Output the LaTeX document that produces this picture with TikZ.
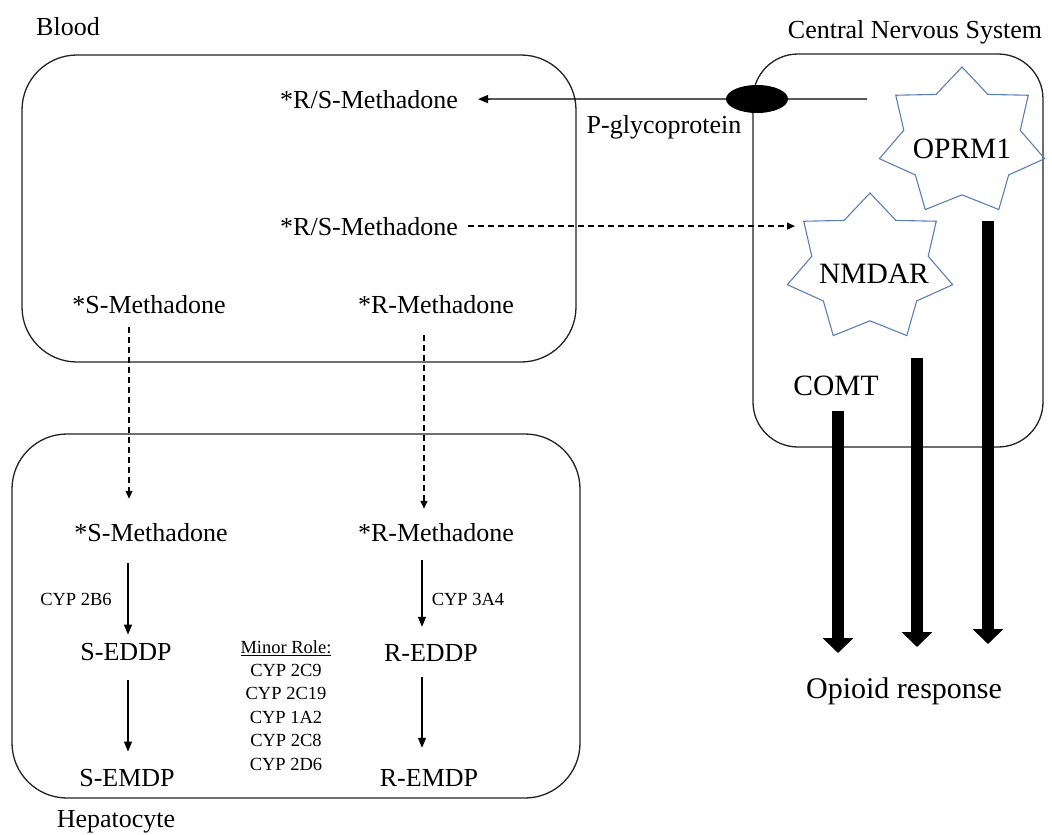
\documentclass[tikz,border=0pt]{standalone}
\usepackage{fontspec}
\setmainfont{Liberation Serif}
\usetikzlibrary{shapes.geometric,arrows.meta}
\definecolor{starblue}{HTML}{5B7FB5}
\definecolor{boxline}{HTML}{222222}
\begin{document}
\begin{tikzpicture}[x=1pt,y=-1pt,
  txt/.style={inner sep=0pt, anchor=base, font=\fontsize{26}{30}\selectfont},
  big/.style={inner sep=0pt, anchor=base, font=\fontsize{29.5}{34}\selectfont},
  small/.style={inner sep=0pt, anchor=base, font=\fontsize{18.5}{23.4}\selectfont},
  regionbox/.style={rectangle, draw=boxline, line width=1.3pt, rounded corners=55pt, inner sep=0pt},
  cnsbox/.style={rectangle, draw=boxline, line width=1.3pt, rounded corners=45pt, inner sep=0pt},
  starshape/.style={star, star points=7, star point ratio=1.42, minimum size=150pt, draw=starblue, line width=1.1pt, inner sep=0pt},
  flow/.style={line width=1.3pt, -{Triangle[width=8pt,length=10pt]}},
  dashflow/.style={line width=1.3pt, dash pattern=on 6pt off 4pt, -{Triangle[width=7pt,length=8pt]}},
  fat/.style={line width=12pt, -{Triangle[width=30pt,length=15pt]}}
]
\useasboundingbox (0,0) rectangle (1052,835);

% region boxes
\node[regionbox, minimum width=554pt, minimum height=307pt] (blood) at (299,208.5) {};
\node[regionbox, minimum width=568pt, minimum height=364pt] (hep) at (296,616) {};
\node[cnsbox, minimum width=290pt, minimum height=393pt] (cns) at (898,250.5) {};

% region titles
\node[txt] (bloodlbl) at (68,35) {Blood};
\node[txt] (heplbl) at (116,827) {Hepatocyte};
\node[txt] (cnslbl) at (915,38) {Central Nervous System};

% stars (stretched horizontally as in the reference)
\begin{scope}[shift={(962,142)}, xscale=1.13]
  \node[starshape, transform shape] (oprmstar) at (0,0) {};
\end{scope}
\begin{scope}[shift={(870,268)}, xscale=1.13]
  \node[starshape, transform shape] (nmdarstar) at (0,0) {};
\end{scope}
\node[big] (oprm) at (962,158) {OPRM1};
\node[big] (nmdar) at (874,283) {NMDAR};
\node[big] (comt) at (836,395) {COMT};
\node[inner sep=0pt, anchor=base, font=\fontsize{30}{36}\selectfont] (resp) at (904,698) {Opioid response};

% blood texts
\node[txt] (rs1) at (369,108) {*R/S-Methadone};
\node[txt] (rs2) at (369,235) {*R/S-Methadone};
\node[txt] (sb) at (149,313) {*S-Methadone};
\node[txt] (rb) at (436,313) {*R-Methadone};
\node[txt] (pgplbl) at (664,133) {P-glycoprotein};

% hepatocyte texts
\node[txt] (sh) at (151,541) {*S-Methadone};
\node[txt] (rh) at (436,541) {*R-Methadone};
\node[txt] (seddp) at (126,660) {S-EDDP};
\node[txt] (reddp) at (431,661) {R-EDDP};
\node[txt] (semdp) at (127,786) {S-EMDP};
\node[txt] (remdp) at (429,786) {R-EMDP};
\node[small] (cyp2b6) at (76,605) {CYP 2B6};
\node[small] (cyp3a4) at (468,605) {CYP 3A4};
\node[inner sep=0pt, anchor=north, align=center, font=\fontsize{18.5}{23.4}\selectfont] (minor) at (286,640)
  {\underline{Minor Role:}\\CYP 2C9\\CYP 2C19\\CYP 1A2\\CYP 2C8\\CYP 2D6};

% column coordinates
\coordinate (scol) at (128,0);
\coordinate (rcol) at (422,0);
\coordinate (scold) at (129,0);
\coordinate (rcold) at (424,0);

% P-glycoprotein efflux
\coordinate (pgptail) at (867,99);
\draw[flow, shorten >=20pt] (pgptail) -- (rs1.east);
\node[ellipse, fill=black, minimum width=62pt, minimum height=28pt, inner sep=0pt] (pgp) at (757,99) {};

% diffusion to NMDAR
\coordinate (nmdarin) at (795,226);
\draw[dashflow, shorten <=10pt] (rs2.east) -- (rs2.east -| nmdarin);

% blood to hepatocyte
\draw[dashflow, shorten <=14pt, shorten >=24pt] (sb.south -| scold) -- (sh.north -| scold);
\draw[dashflow, shorten <=22pt, shorten >=14pt] (rb.south -| rcold) -- (rh.north -| rcold);

% metabolism
\draw[flow, shorten <=22pt, shorten >=8pt] (sh.south -| scol) -- (seddp.north -| scol);
\draw[flow, shorten <=20pt, shorten >=17pt] (seddp.south -| scol) -- (semdp.north -| scol);
\draw[flow, shorten <=19pt, shorten >=17pt] (rh.south -| rcol) -- (reddp.north -| rcol);
\draw[flow, shorten <=16pt, shorten >=21pt] (reddp.south -| rcol) -- (remdp.north -| rcol);

% thick arrows to response
\coordinate (comttop) at (838,411);
\coordinate (comttip) at (838,653);
\coordinate (nmdartop) at (917,358);
\coordinate (nmdartip) at (917,647);
\coordinate (oprmtop) at (988,221);
\coordinate (oprmtip) at (988,644);
\draw[fat] (comttop) -- (comttip);
\draw[fat] (nmdartop) -- (nmdartip);
\draw[fat] (oprmtop) -- (oprmtip);
\end{tikzpicture}
\end{document}
